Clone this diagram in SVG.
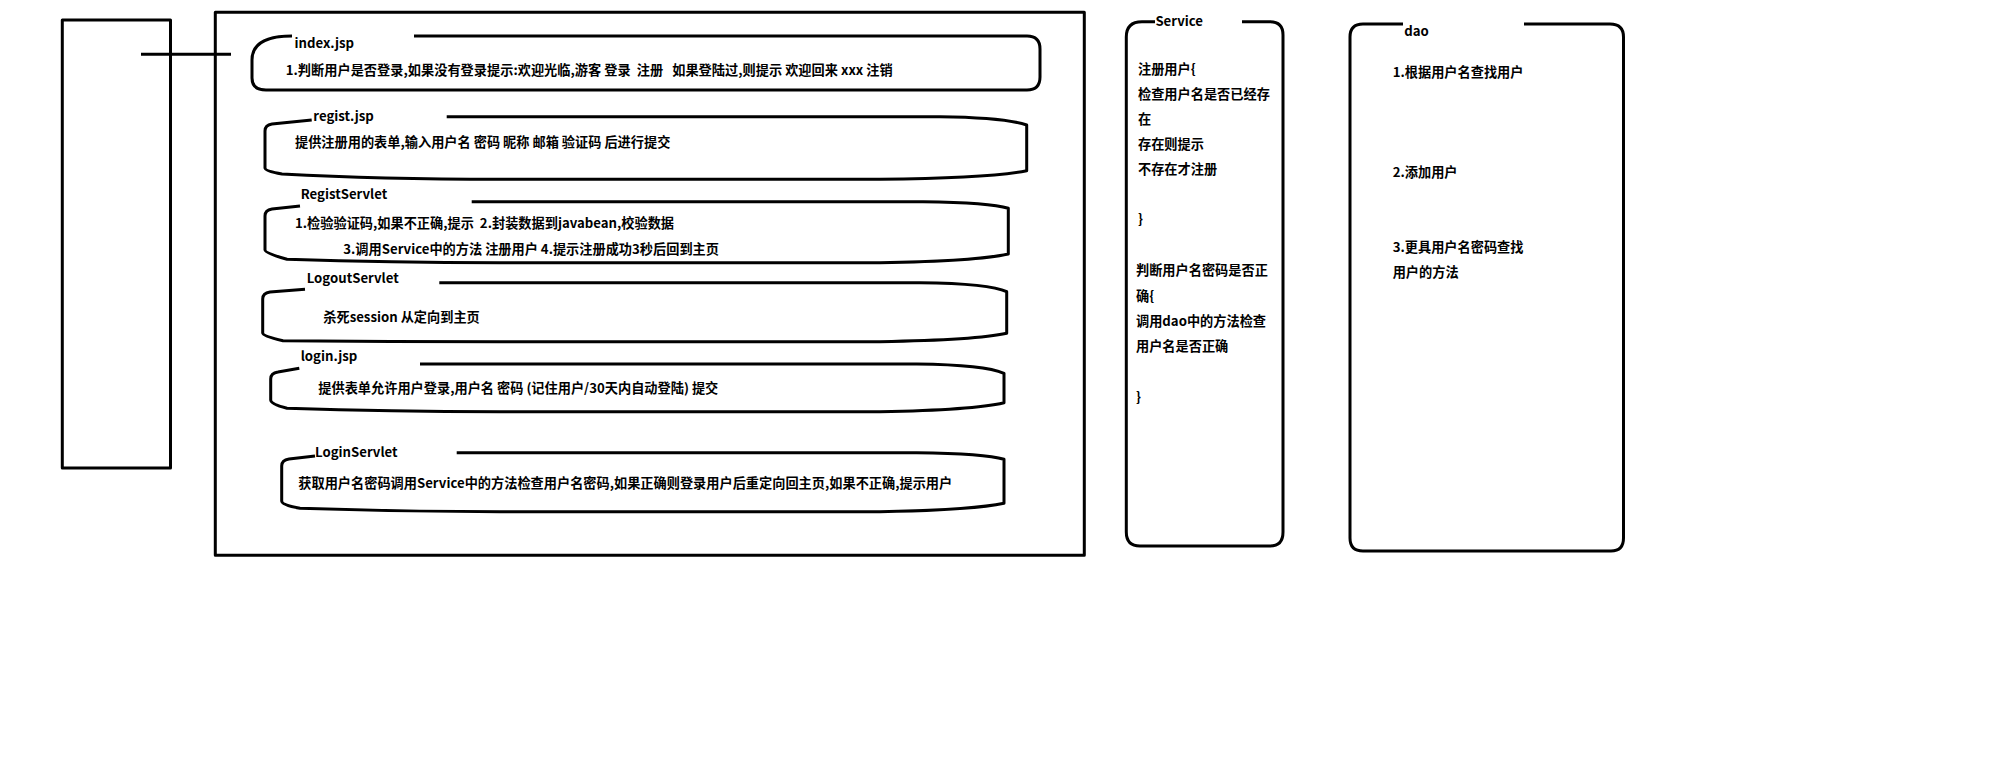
<svg xmlns="http://www.w3.org/2000/svg" width="2000" height="784" viewBox="0 0 2000 784">
<style>
.ln{fill:none;stroke:#000;stroke-width:3;stroke-linejoin:round;stroke-linecap:butt}
text{font-family:"Microsoft YaHei","Noto Sans CJK SC","Noto Sans",sans-serif;font-size:13.2px;font-weight:bold;fill:#000;white-space:pre}
</style>
<rect x="0" y="0" width="2000" height="784" fill="#fff"/>
<g id="left-panel">
<rect class="ln" x="62.3" y="20" width="108.2" height="448"/>
</g>
<g id="web-layer">
<rect class="ln" x="215.3" y="12.3" width="869" height="543"/>
</g>
<g id="connectors">
<line class="ln" x1="141" y1="54.3" x2="231" y2="54.3"/>
</g>
<g id="index-jsp">
<path class="ln" d="M292 36 Q252 36 252 60 L252 78 Q252 90 266 90 L1027 90 Q1040 90 1040 77 L1040 49 Q1040 36 1027 36 L414 36"/>
<text x="294.6" y="48.3">index.jsp</text>
<text x="285.7" y="75" textLength="607" lengthAdjust="spacing">1.判断用户是否登录,如果没有登录提示:欢迎光临,游客 登录  注册   如果登陆过,则提示 欢迎回来 xxx 注销</text>
</g>
<g id="regist-jsp">
<path class="ln" d="M311.7 120 L272 124 Q265 125 265 131 L265 168 Q265 171 282 174 Q380 179.3 500 179.3 L880 179.3 Q990 178 1026.7 170.7 L1026.7 125 Q1005 117.5 940 116.7 L446.7 116.7"/>
<text x="313.3" y="120.7">regist.jsp</text>
<text x="295" y="146.7">提供注册用的表单,输入用户名 密码 昵称 邮箱 验证码 后进行提交</text>
</g>
<g id="regist-servlet">
<path class="ln" d="M300 206 L272 209 Q265 210 265 216 L265 250 Q265 253 287 259.3 Q390 262.7 500 262.7 L880 262.7 Q977 261 1008.3 254 L1008.3 208.3 Q990 202.5 923 201.7 L471.7 201.7"/>
<text x="300.7" y="199.3">RegistServlet</text>
<text x="295" y="228.3">1.检验验证码,如果不正确,提示  2.封装数据到javabean,校验数据</text>
<text x="343.3" y="254">3.调用Service中的方法 注册用户 4.提示注册成功3秒后回到主页</text>
</g>
<g id="logout-servlet">
<path class="ln" d="M305 289.3 L270 292 Q262.7 293 262.7 299 L262.7 333 Q262.7 336 283 340.7 Q390 341.7 500 341.7 L880 341.7 Q977 340 1006.7 333.3 L1006.7 291.7 Q990 283.5 920 282.7 L439.3 282.7"/>
<text x="306.7" y="282.7">LogoutServlet</text>
<text x="323.3" y="321.7">杀死session 从定向到主页</text>
</g>
<g id="login-jsp">
<path class="ln" d="M299.3 368.3 L278 372 Q270.7 373 270.7 379 L270.7 400 Q270.7 404 287 408.3 Q390 411.7 500 411.7 L880 411.7 Q973 410 1004 402.7 L1004 373.3 Q985 364.8 916.7 364 L420 364"/>
<text x="300.7" y="360.7">login.jsp</text>
<text x="318.3" y="392.7">提供表单允许用户登录,用户名 密码 (记住用户/30天内自动登陆) 提交</text>
</g>
<g id="login-servlet">
<path class="ln" d="M315 456 L289 459 Q281.7 460 281.7 466 L281.7 501 Q281.7 505 300 508.3 Q400 511.7 500 511.7 L880 511.7 Q973 510 1004 503.3 L1004 459.3 Q985 453.5 916.7 452.7 L456.7 452.7"/>
<text x="315" y="457.3">LoginServlet</text>
<text x="298.3" y="488.3">获取用户名密码调用Service中的方法检查用户名密码,如果正确则登录用户后重定向回主页,如果不正确,提示用户</text>
</g>
<g id="service">
<path class="ln" d="M1155 21.7 L1142 21.7 Q1126.3 21.7 1126.3 37 L1126.3 532 Q1126.3 546 1140 546 L1270 546 Q1283 546 1283 532 L1283 35 Q1283 21.7 1270 21.7 L1242 21.7"/>
<text x="1155.4" y="25.7">Service</text>
<text x="1138" y="74">注册用户{</text>
<text x="1138" y="99">检查用户名是否已经存</text>
<text x="1138" y="124">在</text>
<text x="1138" y="149">存在则提示</text>
<text x="1138" y="174">不存在才注册</text>
<text x="1138" y="224">}</text>
<text x="1136" y="275">判断用户名密码是否正</text>
<text x="1136" y="300.5">确{</text>
<text x="1136" y="326">调用dao中的方法检查</text>
<text x="1136" y="350.7">用户名是否正确</text>
<text x="1136" y="401.5">}</text>
</g>
<g id="dao">
<path class="ln" d="M1403 24 L1363 24 Q1350 24 1350 37 L1350 538 Q1350 551 1363 551 L1611 551 Q1623.5 551 1623.5 538 L1623.5 37 Q1623.5 24 1610 24 L1524 24"/>
<text x="1404.3" y="35.7">dao</text>
<text x="1392.7" y="76.7">1.根据用户名查找用户</text>
<text x="1392.7" y="176.7">2.添加用户</text>
<text x="1392.7" y="251.7">3.更具用户名密码查找</text>
<text x="1392.7" y="277.3">用户的方法</text>
</g>
</svg>
